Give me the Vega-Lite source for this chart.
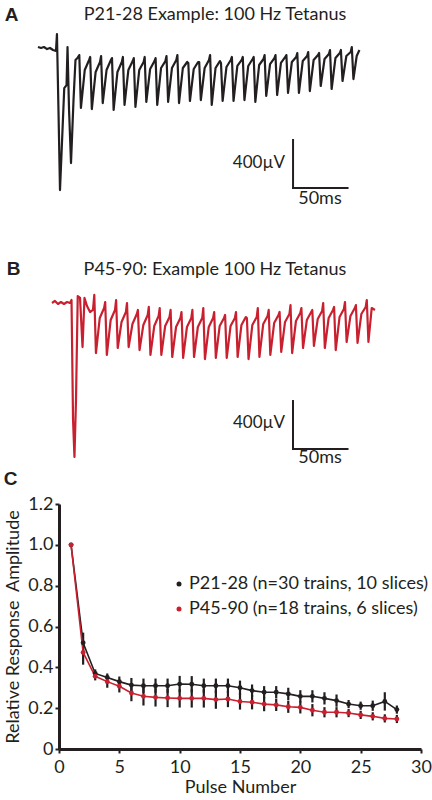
{
  "$schema": "https://vega.github.io/schema/vega-lite/v6.json",
  "padding": {"left": 3, "top": 0, "right": 0, "bottom": 0},
  "spacing": 0,
  "background": "white",
  "resolve": {"legend": {"color": "independent"}},
  "config": {
    "view": {"stroke": null},
    "font": "Lato"
  },
  "datasets": {
    "traceA": [
      {"t":-17.9,"v":25},{"t":-15.1,"v":17},{"t":-12.4,"v":25},{"t":-9.6,"v":8},{"t":-6.9,"v":17},{"t":-4.1,"v":0},{"t":-1.4,"v":-8},{"t":-0.5,"v":133},{"t":0.9,"v":-500},{"t":2.3,"v":-1167},{"t":4.6,"v":-667},{"t":6.2,"v":-317},{"t":8.3,"v":-292},{"t":9.2,"v":25},{"t":10.6,"v":-500},{"t":12.4,"v":-942},{"t":14.7,"v":-417},{"t":16.5,"v":-83},{"t":18.3,"v":-67},
      {"t":20,"v":-42},{"t":21.5,"v":-483},{"t":25,"v":-167},{"t":29,"v":-83},
      {"t":30,"v":-58},{"t":31.5,"v":-492},{"t":35,"v":-183},{"t":39,"v":-100},
      {"t":40,"v":-50},{"t":41.5,"v":-442},{"t":45,"v":-167},{"t":49,"v":-83},
      {"t":50,"v":-67},{"t":51.5,"v":-500},{"t":55,"v":-183},{"t":59,"v":-100},
      {"t":60,"v":-58},{"t":61.5,"v":-458},{"t":65,"v":-167},{"t":69,"v":-92},
      {"t":70,"v":-67},{"t":71.5,"v":-475},{"t":75,"v":-167},{"t":79,"v":-100},
      {"t":80,"v":-58},{"t":81.5,"v":-433},{"t":85,"v":-158},{"t":89,"v":-92},
      {"t":90,"v":-67},{"t":91.5,"v":-458},{"t":95,"v":-150},{"t":99,"v":-92},
      {"t":100,"v":-50},{"t":101.5,"v":-433},{"t":105,"v":-150},{"t":109,"v":-83},
      {"t":110,"v":-42},{"t":111.5,"v":-442},{"t":115,"v":-150},{"t":119,"v":-100},
      {"t":120,"v":-108},{"t":121.5,"v":-425},{"t":125,"v":-158},{"t":129,"v":-100},
      {"t":130,"v":-100},{"t":131.5,"v":-417},{"t":135,"v":-150},{"t":139,"v":-83},
      {"t":140,"v":-42},{"t":141.5,"v":-458},{"t":145,"v":-150},{"t":149,"v":-92},
      {"t":150,"v":-108},{"t":151.5,"v":-425},{"t":155,"v":-142},{"t":159,"v":-83},
      {"t":160,"v":-58},{"t":161.5,"v":-425},{"t":165,"v":-133},{"t":169,"v":-83},
      {"t":170,"v":-58},{"t":171.5,"v":-417},{"t":175,"v":-133},{"t":179,"v":-75},
      {"t":180,"v":-58},{"t":181.5,"v":-433},{"t":185,"v":-125},{"t":189,"v":-75},
      {"t":190,"v":-42},{"t":191.5,"v":-383},{"t":195,"v":-117},{"t":199,"v":-67},
      {"t":200,"v":-42},{"t":201.5,"v":-375},{"t":205,"v":-108},{"t":209,"v":-58},
      {"t":210,"v":-42},{"t":211.5,"v":-358},{"t":215,"v":-100},{"t":219,"v":-58},
      {"t":220,"v":-25},{"t":221.5,"v":-358},{"t":225,"v":-92},{"t":229,"v":-50},
      {"t":230,"v":-17},{"t":231.5,"v":-342},{"t":235,"v":-83},{"t":239,"v":-42},
      {"t":240,"v":-25},{"t":241.5,"v":-300},{"t":245,"v":-75},{"t":249,"v":-33},
      {"t":250,"v":0},{"t":251.5,"v":-325},{"t":255,"v":-67},{"t":259,"v":-25},
      {"t":260,"v":0},{"t":261.5,"v":-258},{"t":265,"v":-50},{"t":269,"v":-17},
      {"t":270,"v":25},{"t":271.5,"v":-242},{"t":274.5,"v":-50},{"t":277,"v":0}
    ],
    "traceB": [
      {"t":-18.8,"v":0},{"t":-16.1,"v":17},{"t":-13.3,"v":-8},{"t":-10.6,"v":8},{"t":-7.8,"v":-8},{"t":-5.0,"v":8},{"t":-2.3,"v":0},{"t":-0.9,"v":25},{"t":0.5,"v":-975},{"t":1.8,"v":-1283},{"t":3.2,"v":-808},{"t":4.8,"v":58},{"t":6.9,"v":42},{"t":9.2,"v":-367},{"t":11.0,"v":42},{"t":13.3,"v":-25},{"t":16.1,"v":-75},{"t":18.8,"v":-58},
      {"t":20,"v":67},{"t":21.5,"v":-417},{"t":25,"v":-125},{"t":29,"v":-42},
      {"t":30,"v":8},{"t":31.5,"v":-433},{"t":35,"v":-142},{"t":39,"v":-58},
      {"t":40,"v":25},{"t":41.5,"v":-375},{"t":45,"v":-158},{"t":49,"v":-75},
      {"t":50,"v":0},{"t":51.5,"v":-367},{"t":55,"v":-175},{"t":59,"v":-92},
      {"t":60,"v":-58},{"t":61.5,"v":-392},{"t":65,"v":-183},{"t":69,"v":-100},
      {"t":70,"v":-33},{"t":71.5,"v":-433},{"t":75,"v":-192},{"t":79,"v":-108},
      {"t":80,"v":-42},{"t":81.5,"v":-433},{"t":85,"v":-192},{"t":89,"v":-117},
      {"t":90,"v":-58},{"t":91.5,"v":-450},{"t":95,"v":-200},{"t":99,"v":-125},
      {"t":100,"v":-75},{"t":101.5,"v":-458},{"t":105,"v":-200},{"t":109,"v":-125},
      {"t":110,"v":-58},{"t":111.5,"v":-450},{"t":115,"v":-200},{"t":119,"v":-125},
      {"t":120,"v":-42},{"t":121.5,"v":-467},{"t":125,"v":-200},{"t":129,"v":-125},
      {"t":130,"v":-75},{"t":131.5,"v":-458},{"t":135,"v":-192},{"t":139,"v":-125},
      {"t":140,"v":-100},{"t":141.5,"v":-458},{"t":145,"v":-192},{"t":149,"v":-125},
      {"t":150,"v":-75},{"t":151.5,"v":-450},{"t":155,"v":-183},{"t":159,"v":-117},
      {"t":160,"v":-125},{"t":161.5,"v":-467},{"t":165,"v":-183},{"t":169,"v":-117},
      {"t":170,"v":-42},{"t":171.5,"v":-450},{"t":175,"v":-175},{"t":179,"v":-108},
      {"t":180,"v":-58},{"t":181.5,"v":-433},{"t":185,"v":-167},{"t":189,"v":-100},
      {"t":190,"v":-75},{"t":191.5,"v":-408},{"t":195,"v":-158},{"t":199,"v":-92},
      {"t":200,"v":-17},{"t":201.5,"v":-417},{"t":205,"v":-150},{"t":209,"v":-83},
      {"t":210,"v":-42},{"t":211.5,"v":-375},{"t":215,"v":-142},{"t":219,"v":-75},
      {"t":220,"v":-58},{"t":221.5,"v":-358},{"t":225,"v":-133},{"t":229,"v":-67},
      {"t":230,"v":0},{"t":231.5,"v":-375},{"t":235,"v":-125},{"t":239,"v":-58},
      {"t":240,"v":-33},{"t":241.5,"v":-392},{"t":245,"v":-117},{"t":249,"v":-50},
      {"t":250,"v":8},{"t":251.5,"v":-325},{"t":255,"v":-108},{"t":259,"v":-42},
      {"t":260,"v":-17},{"t":261.5,"v":-333},{"t":265,"v":-92},{"t":269,"v":-33},
      {"t":270,"v":25},{"t":271.5,"v":-325},{"t":274.5,"v":-42},{"t":277.5,"v":-58}
    ],
    "barsA": [
      {"t":216.1,"v":-750,"t2":216.1,"v2":-1150},
      {"t":216.1,"v":-1150,"t2":266.1,"v2":-1150}
    ],
    "barsB": [
      {"t":202.3,"v":-817,"t2":202.3,"v2":-1217},
      {"t":202.3,"v":-1217,"t2":252.3,"v2":-1217}
    ],
    "textA": [
      {"t":208.7,"v":-944,"label":"400µV","kind":"right"},
      {"t":240.8,"v":-1242,"label":"50ms","kind":"center"},
      {"t":144.5,"v":291.7,"label":"P21-28 Example: 100 Hz Tetanus","kind":"center"},
      {"t":-42.2,"v":291.7,"label":"A","kind":"letter"}
    ],
    "textB": [
      {"t":195,"v":-1000,"label":"400µV","kind":"right"},
      {"t":227.1,"v":-1292,"label":"50ms","kind":"center"},
      {"t":130.7,"v":275,"label":"P45-90: Example 100 Hz Tetanus","kind":"center"},
      {"t":-54.1,"v":283,"label":"B","kind":"letter"}
    ],
    "textC": [
      {"pulse":-4.0,"amp":1.322,"label":"C"}
    ],
    "amp": [
      {"pulse":1,"series":"P21-28 (n=30 trains, 10 slices)","amp":1.0,"err":0},
      {"pulse":2,"series":"P21-28 (n=30 trains, 10 slices)","amp":0.52,"err":0.05},
      {"pulse":3,"series":"P21-28 (n=30 trains, 10 slices)","amp":0.37,"err":0.02},
      {"pulse":4,"series":"P21-28 (n=30 trains, 10 slices)","amp":0.35,"err":0.02},
      {"pulse":5,"series":"P21-28 (n=30 trains, 10 slices)","amp":0.33,"err":0.025},
      {"pulse":6,"series":"P21-28 (n=30 trains, 10 slices)","amp":0.313,"err":0.035},
      {"pulse":7,"series":"P21-28 (n=30 trains, 10 slices)","amp":0.31,"err":0.035},
      {"pulse":8,"series":"P21-28 (n=30 trains, 10 slices)","amp":0.31,"err":0.035},
      {"pulse":9,"series":"P21-28 (n=30 trains, 10 slices)","amp":0.31,"err":0.035},
      {"pulse":10,"series":"P21-28 (n=30 trains, 10 slices)","amp":0.318,"err":0.04},
      {"pulse":11,"series":"P21-28 (n=30 trains, 10 slices)","amp":0.317,"err":0.04},
      {"pulse":12,"series":"P21-28 (n=30 trains, 10 slices)","amp":0.31,"err":0.035},
      {"pulse":13,"series":"P21-28 (n=30 trains, 10 slices)","amp":0.31,"err":0.035},
      {"pulse":14,"series":"P21-28 (n=30 trains, 10 slices)","amp":0.31,"err":0.035},
      {"pulse":15,"series":"P21-28 (n=30 trains, 10 slices)","amp":0.30,"err":0.035},
      {"pulse":16,"series":"P21-28 (n=30 trains, 10 slices)","amp":0.286,"err":0.03},
      {"pulse":17,"series":"P21-28 (n=30 trains, 10 slices)","amp":0.278,"err":0.03},
      {"pulse":18,"series":"P21-28 (n=30 trains, 10 slices)","amp":0.278,"err":0.03},
      {"pulse":19,"series":"P21-28 (n=30 trains, 10 slices)","amp":0.27,"err":0.03},
      {"pulse":20,"series":"P21-28 (n=30 trains, 10 slices)","amp":0.258,"err":0.03},
      {"pulse":21,"series":"P21-28 (n=30 trains, 10 slices)","amp":0.258,"err":0.03},
      {"pulse":22,"series":"P21-28 (n=30 trains, 10 slices)","amp":0.248,"err":0.03},
      {"pulse":23,"series":"P21-28 (n=30 trains, 10 slices)","amp":0.237,"err":0.03},
      {"pulse":24,"series":"P21-28 (n=30 trains, 10 slices)","amp":0.22,"err":0.02},
      {"pulse":25,"series":"P21-28 (n=30 trains, 10 slices)","amp":0.212,"err":0.02},
      {"pulse":26,"series":"P21-28 (n=30 trains, 10 slices)","amp":0.212,"err":0.025},
      {"pulse":27,"series":"P21-28 (n=30 trains, 10 slices)","amp":0.233,"err":0.045},
      {"pulse":28,"series":"P21-28 (n=30 trains, 10 slices)","amp":0.193,"err":0.02},
      {"pulse":1,"series":"P45-90 (n=18 trains, 6 slices)","amp":1.0,"err":0},
      {"pulse":2,"series":"P45-90 (n=18 trains, 6 slices)","amp":0.473,"err":0.06},
      {"pulse":3,"series":"P45-90 (n=18 trains, 6 slices)","amp":0.356,"err":0.02},
      {"pulse":4,"series":"P45-90 (n=18 trains, 6 slices)","amp":0.33,"err":0.03},
      {"pulse":5,"series":"P45-90 (n=18 trains, 6 slices)","amp":0.307,"err":0.03},
      {"pulse":6,"series":"P45-90 (n=18 trains, 6 slices)","amp":0.274,"err":0.04},
      {"pulse":7,"series":"P45-90 (n=18 trains, 6 slices)","amp":0.258,"err":0.045},
      {"pulse":8,"series":"P45-90 (n=18 trains, 6 slices)","amp":0.253,"err":0.045},
      {"pulse":9,"series":"P45-90 (n=18 trains, 6 slices)","amp":0.25,"err":0.045},
      {"pulse":10,"series":"P45-90 (n=18 trains, 6 slices)","amp":0.248,"err":0.045},
      {"pulse":11,"series":"P45-90 (n=18 trains, 6 slices)","amp":0.248,"err":0.045},
      {"pulse":12,"series":"P45-90 (n=18 trains, 6 slices)","amp":0.248,"err":0.045},
      {"pulse":13,"series":"P45-90 (n=18 trains, 6 slices)","amp":0.242,"err":0.045},
      {"pulse":14,"series":"P45-90 (n=18 trains, 6 slices)","amp":0.245,"err":0.04},
      {"pulse":15,"series":"P45-90 (n=18 trains, 6 slices)","amp":0.233,"err":0.04},
      {"pulse":16,"series":"P45-90 (n=18 trains, 6 slices)","amp":0.229,"err":0.035},
      {"pulse":17,"series":"P45-90 (n=18 trains, 6 slices)","amp":0.22,"err":0.035},
      {"pulse":18,"series":"P45-90 (n=18 trains, 6 slices)","amp":0.216,"err":0.03},
      {"pulse":19,"series":"P45-90 (n=18 trains, 6 slices)","amp":0.207,"err":0.03},
      {"pulse":20,"series":"P45-90 (n=18 trains, 6 slices)","amp":0.204,"err":0.03},
      {"pulse":21,"series":"P45-90 (n=18 trains, 6 slices)","amp":0.19,"err":0.03},
      {"pulse":22,"series":"P45-90 (n=18 trains, 6 slices)","amp":0.18,"err":0.025},
      {"pulse":23,"series":"P45-90 (n=18 trains, 6 slices)","amp":0.18,"err":0.025},
      {"pulse":24,"series":"P45-90 (n=18 trains, 6 slices)","amp":0.176,"err":0.02},
      {"pulse":25,"series":"P45-90 (n=18 trains, 6 slices)","amp":0.167,"err":0.02},
      {"pulse":26,"series":"P45-90 (n=18 trains, 6 slices)","amp":0.16,"err":0.02},
      {"pulse":27,"series":"P45-90 (n=18 trains, 6 slices)","amp":0.15,"err":0.02},
      {"pulse":28,"series":"P45-90 (n=18 trains, 6 slices)","amp":0.147,"err":0.02}
    ]
  },
  "vconcat": [
    {
      "width": 373,
      "height": 248,
      "layer": [
        {
          "data": {"name": "traceA"},
          "mark": {"type": "line", "color": "#231f20", "strokeWidth": 2.2, "strokeJoin": "round"},
          "encoding": {
            "x": {"field": "t", "type": "quantitative", "scale": {"domain": [1.38, 343.58], "nice": false, "zero": false}, "axis": null},
            "y": {"field": "v", "type": "quantitative", "scale": {"domain": [-1650, 416.7], "nice": false, "zero": false}, "axis": null}
          }
        },
        {
          "data": {"name": "barsA"},
          "mark": {"type": "rule", "color": "#231f20", "strokeWidth": 2, "strokeCap": "square"},
          "encoding": {
            "x": {"field": "t", "type": "quantitative"},
            "y": {"field": "v", "type": "quantitative"},
            "x2": {"field": "t2"},
            "y2": {"field": "v2"}
          }
        },
        {
          "data": {"name": "textA"},
          "transform": [{"filter": "datum.kind == 'right'"}],
          "mark": {"type": "text", "align": "right", "baseline": "middle", "fontSize": 17, "font": "Lato", "color": "#231f20"},
          "encoding": {"x": {"field": "t", "type": "quantitative"}, "y": {"field": "v", "type": "quantitative"}, "text": {"field": "label"}}
        },
        {
          "data": {"name": "textA"},
          "transform": [{"filter": "datum.kind == 'center'"}],
          "mark": {"type": "text", "align": "center", "baseline": "middle", "fontSize": 18, "font": "Lato", "color": "#231f20"},
          "encoding": {"x": {"field": "t", "type": "quantitative"}, "y": {"field": "v", "type": "quantitative"}, "text": {"field": "label"}}
        },
        {
          "data": {"name": "textA"},
          "transform": [{"filter": "datum.kind == 'letter'"}],
          "mark": {"type": "text", "align": "center", "baseline": "middle", "fontSize": 19, "font": "Liberation Sans", "fontWeight": "bold", "color": "#231f20"},
          "encoding": {"x": {"field": "t", "type": "quantitative"}, "y": {"field": "v", "type": "quantitative"}, "text": {"field": "label"}}
        }
      ]
    },
    {
      "width": 373,
      "height": 222,
      "layer": [
        {
          "data": {"name": "traceB"},
          "mark": {"type": "line", "color": "#c8202f", "strokeWidth": 2.2, "strokeJoin": "round"},
          "encoding": {
            "x": {"field": "t", "type": "quantitative", "scale": {"domain": [-12.39, 329.82], "nice": false, "zero": false}, "axis": null},
            "y": {"field": "v", "type": "quantitative", "scale": {"domain": [-1391.7, 458.3], "nice": false, "zero": false}, "axis": null}
          }
        },
        {
          "data": {"name": "barsB"},
          "mark": {"type": "rule", "color": "#231f20", "strokeWidth": 2, "strokeCap": "square"},
          "encoding": {
            "x": {"field": "t", "type": "quantitative"},
            "y": {"field": "v", "type": "quantitative"},
            "x2": {"field": "t2"},
            "y2": {"field": "v2"}
          }
        },
        {
          "data": {"name": "textB"},
          "transform": [{"filter": "datum.kind == 'right'"}],
          "mark": {"type": "text", "align": "right", "baseline": "middle", "fontSize": 17, "font": "Lato", "color": "#231f20"},
          "encoding": {"x": {"field": "t", "type": "quantitative"}, "y": {"field": "v", "type": "quantitative"}, "text": {"field": "label"}}
        },
        {
          "data": {"name": "textB"},
          "transform": [{"filter": "datum.kind == 'center'"}],
          "mark": {"type": "text", "align": "center", "baseline": "middle", "fontSize": 18, "font": "Lato", "color": "#231f20"},
          "encoding": {"x": {"field": "t", "type": "quantitative"}, "y": {"field": "v", "type": "quantitative"}, "text": {"field": "label"}}
        },
        {
          "data": {"name": "textB"},
          "transform": [{"filter": "datum.kind == 'letter'"}],
          "mark": {"type": "text", "align": "center", "baseline": "middle", "fontSize": 19, "font": "Liberation Sans", "fontWeight": "bold", "color": "#231f20"},
          "encoding": {"x": {"field": "t", "type": "quantitative"}, "y": {"field": "v", "type": "quantitative"}, "text": {"field": "label"}}
        }
      ]
    },
    {
      "width": 362,
      "height": 245,
      "resolve": {"legend": {"color": "independent"}},
      "encoding": {
        "x": {
          "field": "pulse", "type": "quantitative",
          "scale": {"domain": [0, 30], "nice": false, "zero": false},
          "axis": {
            "title": "Pulse Number", "values": [0, 5, 10, 15, 20, 25, 30], "grid": false,
            "domainColor": "#231f20", "domainWidth": 3, "tickColor": "#231f20", "tickWidth": 2, "tickSize": 4,
            "labelFont": "Lato", "labelFontSize": 18, "labelColor": "#231f20", "labelPadding": 5, "labelFlush": false,
            "titleFont": "Lato", "titleFontSize": 18, "titleFontWeight": "normal", "titleColor": "#231f20", "titlePadding": 2
          }
        },
        "y": {
          "field": "amp", "type": "quantitative",
          "scale": {"domain": [0, 1.2], "nice": false, "zero": false},
          "axis": {
            "title": "Relative Response\u00a0 Amplitude", "values": [0, 0.2, 0.4, 0.6, 0.8, 1.0, 1.2], "grid": false,
            "labelExpr": "datum.value == 0 ? '0' : format(datum.value, '.1f')",
            "domainColor": "#231f20", "domainWidth": 3, "tickColor": "#231f20", "tickWidth": 2, "tickSize": 4,
            "labelFont": "Lato", "labelFontSize": 18, "labelColor": "#231f20", "labelPadding": 2, "labelFlush": false,
            "titleFont": "Lato", "titleFontSize": 18, "titleFontWeight": "normal", "titleColor": "#231f20", "titlePadding": 5
          }
        }
      },
      "layer": [
        {
          "data": {"name": "amp"},
          "mark": {"type": "errorbar", "color": "#231f20", "thickness": 2.2},
          "encoding": {"yError": {"field": "err"}}
        },
        {
          "data": {"name": "amp"},
          "transform": [{"filter": "datum.series == 'P21-28 (n=30 trains, 10 slices)'"}],
          "mark": {"type": "line", "strokeWidth": 1.6, "color": "#231f20"}
        },
        {
          "data": {"name": "amp"},
          "transform": [{"filter": "datum.series == 'P45-90 (n=18 trains, 6 slices)'"}],
          "mark": {"type": "line", "strokeWidth": 1.6, "color": "#c8202f"}
        },
        {
          "data": {"name": "amp"},
          "mark": {"type": "point", "filled": true, "size": 24, "opacity": 1},
          "encoding": {
            "color": {
              "field": "series", "type": "nominal",
              "scale": {"domain": ["P21-28 (n=30 trains, 10 slices)", "P45-90 (n=18 trains, 6 slices)"], "range": ["#231f20", "#c8202f"]},
              "legend": {
                "orient": "none", "legendX": 111, "legendY": 71, "title": null,
                "labelFont": "Lato", "labelFontSize": 18, "labelColor": "#231f20", "labelOffset": 1, "labelLimit": 400,
                "symbolType": "circle", "symbolSize": 25, "rowPadding": 7, "padding": 0
              }
            }
          }
        },
        {
          "data": {"name": "textC"},
          "mark": {"type": "text", "align": "center", "baseline": "middle", "fontSize": 19, "font": "Liberation Sans", "fontWeight": "bold", "color": "#231f20"},
          "encoding": {"text": {"field": "label"}}
        }
      ]
    }
  ]
}
